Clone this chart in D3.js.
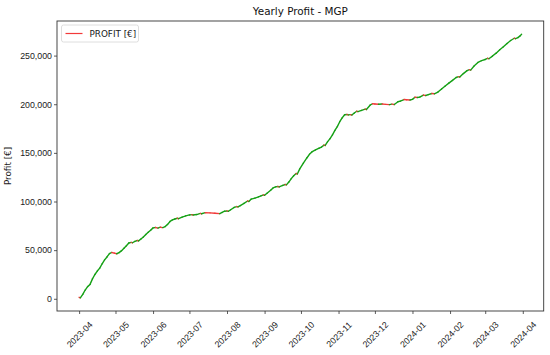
<!DOCTYPE html>
<html>
<head>
<meta charset="utf-8">
<script src="https://cdn.jsdelivr.net/npm/d3@7"></script>
<style>
  body { margin: 0; background: #fff; }
  svg { font-family: "DejaVu Sans", sans-serif; }
</style>
</head>
<body>
<div id="chart"></div>
<script>
const width = 550;
const height = 355;

const chartTitle = "Yearly Profit - MGP";
const yLabel = "Profit [€]";
const legendLabel = "PROFIT [€]";

const dates = [
  "2023-04-01","2023-04-02","2023-04-04","2023-04-06","2023-04-08","2023-04-10","2023-04-12","2023-04-14",
  "2023-04-16","2023-04-18","2023-04-20","2023-04-22","2023-04-24","2023-04-26","2023-04-28","2023-04-30",
  "2023-05-02","2023-05-04","2023-05-06","2023-05-08","2023-05-10","2023-05-12","2023-05-14","2023-05-15",
  "2023-05-17","2023-05-19","2023-05-20","2023-05-22","2023-05-24","2023-05-26","2023-05-28","2023-05-30",
  "2023-06-01","2023-06-03","2023-06-05","2023-06-07","2023-06-09","2023-06-11","2023-06-13","2023-06-15",
  "2023-06-17","2023-06-19","2023-06-21","2023-06-22","2023-06-25","2023-06-28","2023-07-01","2023-07-03",
  "2023-07-04","2023-07-07","2023-07-10","2023-07-11","2023-07-14","2023-07-18","2023-07-22","2023-07-26",
  "2023-07-28","2023-07-30","2023-08-01","2023-08-02","2023-08-04","2023-08-07","2023-08-09","2023-08-10",
  "2023-08-12","2023-08-15","2023-08-18","2023-08-19","2023-08-21","2023-08-24","2023-08-27","2023-08-29",
  "2023-08-31","2023-09-01","2023-09-03","2023-09-06","2023-09-08","2023-09-10","2023-09-12","2023-09-13",
  "2023-09-16","2023-09-18","2023-09-19","2023-09-21","2023-09-23","2023-09-25","2023-09-27","2023-09-28",
  "2023-09-30","2023-10-03","2023-10-06","2023-10-08","2023-10-10","2023-10-13","2023-10-16","2023-10-18",
  "2023-10-20","2023-10-21","2023-10-23","2023-10-25","2023-10-27","2023-10-29","2023-10-31","2023-11-02",
  "2023-11-04","2023-11-06","2023-11-08","2023-11-09","2023-11-11","2023-11-12","2023-11-14","2023-11-16",
  "2023-11-17","2023-11-20","2023-11-23","2023-11-24","2023-11-27","2023-11-29","2023-12-01","2023-12-04",
  "2023-12-07","2023-12-10","2023-12-13","2023-12-15","2023-12-17","2023-12-20","2023-12-22","2023-12-25",
  "2023-12-27","2023-12-30","2024-01-01","2024-01-03","2024-01-05","2024-01-07","2024-01-10","2024-01-12",
  "2024-01-14","2024-01-17","2024-01-19","2024-01-22","2024-01-25","2024-01-28","2024-01-31","2024-02-03",
  "2024-02-06","2024-02-08","2024-02-09","2024-02-12","2024-02-15","2024-02-17","2024-02-18","2024-02-21",
  "2024-02-24","2024-02-27","2024-03-01","2024-03-03","2024-03-04","2024-03-07","2024-03-10","2024-03-13",
  "2024-03-16","2024-03-19","2024-03-22","2024-03-25","2024-03-26","2024-03-28","2024-03-30","2024-03-31"
];

const profit = [
  1500, 1000, 4500, 9000, 12500, 14800, 20500, 25000,
  28500, 31500, 36000, 40000, 43000, 46500, 47600, 47000,
  46300, 47500, 49500, 52000, 54500, 57300, 58000, 57600,
  59000, 59900, 59500, 61500, 63500, 66000, 68300, 70500,
  72900, 73300, 72700, 73600, 73200, 74200, 76500, 79500,
  81100, 82000, 82800, 82300, 84000, 85300, 86200, 86500,
  86100, 86600, 87800, 87400, 88500, 88300, 88000, 87500,
  88800, 90000, 90300, 89900, 91500, 94000, 94800, 94400,
  95800, 98000, 100500, 100100, 102500, 103500, 104800, 105800,
  106800, 106400, 108500, 111500, 114000, 115000, 115400, 115000,
  116500, 117500, 117100, 120000, 123500, 126500, 128800, 128300,
  133500, 139500, 145000, 148500, 151000, 153000, 154800, 156000,
  158000, 157600, 161500, 164600, 168500, 173100, 177000, 182000,
  186000, 189200, 189400, 189000, 189300, 188900, 191000, 192800,
  192400, 193600, 195000, 194600, 199000, 200500, 200300, 200000,
  200200, 199800, 199600, 200100, 199700, 202500, 203200, 204800,
  204600, 204300, 205000, 207200, 206900, 207300, 209400, 209000,
  209800, 211000, 210700, 212500, 215700, 218800, 221700, 224500,
  227500, 228400, 228000, 231500, 234500, 235500, 235100, 239500,
  243000, 244800, 246000, 247200, 246800, 249500, 252500, 256000,
  259000, 262500, 265500, 267800, 267400, 268500, 270500, 272000
];

const yTicks = [0, 50000, 100000, 150000, 200000, 250000];
const xTickMonths = [
  "2023-04-01","2023-05-01","2023-06-01","2023-07-01","2023-08-01","2023-09-01","2023-10-01",
  "2023-11-01","2023-12-01","2024-01-01","2024-02-01","2024-03-01","2024-04-01"
];

const parseDate = d3.utcParse("%Y-%m-%d");
const data = dates.map((d, i) => ({ date: parseDate(d), value: profit[i] }));

const margin = { top: 21, right: 6.3, bottom: 44, left: 57 };
const innerW = width - margin.left - margin.right;
const innerH = height - margin.top - margin.bottom;

// matplotlib-style 5% padding around the data
const xExt = d3.extent(data, d => d.date);
const xPad = (xExt[1] - xExt[0]) * 0.05;
const x = d3.scaleUtc()
    .domain([new Date(+xExt[0] - xPad), new Date(+xExt[1] + xPad)])
    .range([margin.left, margin.left + innerW]);

const yExt = d3.extent(data, d => d.value);
const yPad = (yExt[1] - yExt[0]) * 0.05;
const y = d3.scaleLinear()
    .domain([yExt[0] - yPad, yExt[1] + yPad])
    .range([margin.top + innerH, margin.top]);

const svg = d3.select("#chart").append("svg")
    .attr("width", width)
    .attr("height", height);

// line segments, green when rising, red when falling
const segs = d3.pairs(data);
svg.append("g")
  .selectAll("line")
  .data(segs)
  .join("line")
    .attr("x1", d => x(d[0].date))
    .attr("y1", d => y(d[0].value))
    .attr("x2", d => x(d[1].date))
    .attr("y2", d => y(d[1].value))
    .attr("stroke", d => d[1].value >= d[0].value ? "#15a015" : "#f23a3a")
    .attr("stroke-width", 1.4)
    .attr("stroke-linecap", "round");

// axes
const yAxis = svg.append("g")
    .attr("transform", `translate(${margin.left},0)`)
    .call(d3.axisLeft(y).tickValues(yTicks).tickSize(3).tickPadding(2).tickFormat(d3.format(",")));

const xAxis = svg.append("g")
    .attr("transform", `translate(0,${margin.top + innerH})`)
    .call(d3.axisBottom(x).tickValues(xTickMonths.map(parseDate)).tickSize(3).tickFormat(d3.utcFormat("%Y-%m")));

[yAxis, xAxis].forEach(a => {
    a.select(".domain").remove();
    a.selectAll(".tick line").attr("stroke", "#333").attr("stroke-width", 0.8);
    a.selectAll(".tick text").attr("fill", "#1a1a1a").style("font-size", "8.8px");
});

xAxis.selectAll(".tick text")
    .attr("y", 0)
    .attr("dy", "0.35em")
    .attr("text-anchor", "middle")
    .attr("transform", "translate(0,23.5) rotate(-45)");

// frame
svg.append("rect")
    .attr("x", margin.left)
    .attr("y", margin.top)
    .attr("width", innerW)
    .attr("height", innerH)
    .attr("fill", "none")
    .attr("stroke", "#333")
    .attr("stroke-width", 0.9);

// title
svg.append("text")
    .attr("x", margin.left + innerW / 2)
    .attr("y", 15)
    .attr("text-anchor", "middle")
    .attr("fill", "#111")
    .style("font-size", "10.4px")
    .text(chartTitle);

// y label
svg.append("text")
    .attr("transform", `translate(11,${margin.top + innerH / 2}) rotate(-90)`)
    .attr("text-anchor", "middle")
    .attr("fill", "#1a1a1a")
    .style("font-size", "8.8px")
    .text(yLabel);

// legend
const legend = svg.append("g").attr("transform", `translate(${margin.left + 4.5},${margin.top + 4})`);
legend.append("rect")
    .attr("width", 77)
    .attr("height", 17)
    .attr("rx", 2)
    .attr("fill", "#fff")
    .attr("stroke", "#d6d6d6")
    .attr("stroke-width", 0.8);
legend.append("line")
    .attr("x1", 4).attr("x2", 21)
    .attr("y1", 8.5).attr("y2", 8.5)
    .attr("stroke", "#f23a3a")
    .attr("stroke-width", 1.2);
legend.append("text")
    .attr("x", 28)
    .attr("y", 8.5)
    .attr("dy", "0.35em")
    .attr("fill", "#1a1a1a")
    .style("font-size", "8.8px")
    .text(legendLabel);
</script>
</body>
</html>
